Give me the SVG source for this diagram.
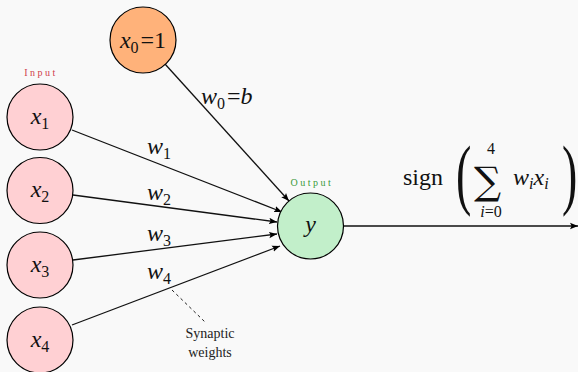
<svg xmlns="http://www.w3.org/2000/svg" width="578" height="372" viewBox="0 0 578 372">
<defs>
<marker id="arr" viewBox="0 0 10 10" refX="10" refY="5" markerWidth="8" markerHeight="8" orient="auto" markerUnits="userSpaceOnUse">
<path d="M0,1 L10,5 L0,9 L2,5 Z" fill="#000"/>
</marker>
</defs>
<rect width="578" height="372" fill="#f9f9f9"/>
<g id="connectors" stroke="#111" stroke-width="1.3" fill="none">
<line marker-end="url(#arr)" x1="165" y1="64" x2="289" y2="201"/>
<line marker-end="url(#arr)" x1="72" y1="130" x2="282" y2="212"/>
<line marker-end="url(#arr)" x1="73" y1="195" x2="277" y2="222"/>
<line marker-end="url(#arr)" x1="73" y1="260" x2="277" y2="234"/>
<line marker-end="url(#arr)" x1="72" y1="325" x2="280" y2="246"/>
<line marker-end="url(#arr)" x1="343.5" y1="226" x2="578" y2="226"/>
<line x1="172" y1="290" x2="205" y2="322" stroke="#222" stroke-width="1" stroke-dasharray="3,3"/>
</g>
<g id="edge-labels">
<text style="font-family:'Liberation Serif',serif !important" font-size="24" fill="#111" x="201" y="104"><tspan font-style="italic">w</tspan><tspan font-size="16" dy="5">0</tspan><tspan dy="-5" dx="2">=</tspan><tspan font-style="italic">b</tspan></text>
<text style="font-family:'Liberation Serif',serif !important" font-size="24" fill="#111" x="147" y="154"><tspan font-style="italic">w</tspan><tspan font-size="16" dy="5">1</tspan></text>
<text style="font-family:'Liberation Serif',serif !important" font-size="24" fill="#111" x="147" y="200"><tspan font-style="italic">w</tspan><tspan font-size="16" dy="5">2</tspan></text>
<text style="font-family:'Liberation Serif',serif !important" font-size="24" fill="#111" x="147" y="241"><tspan font-style="italic">w</tspan><tspan font-size="16" dy="5">3</tspan></text>
<text style="font-family:'Liberation Serif',serif !important" font-size="24" fill="#111" x="147" y="279"><tspan font-style="italic">w</tspan><tspan font-size="16" dy="5">4</tspan></text>
</g>
<g id="bias">
<circle fill="#ffb27a" stroke="#000" stroke-width="1.2" cx="143" cy="40" r="33"/>
<text style="font-family:'Liberation Serif',serif !important" font-size="24" fill="#111" x="143" y="48" text-anchor="middle"><tspan font-style="italic">x</tspan><tspan font-size="16" dy="5">0</tspan><tspan dy="-5" dx="2">=1</tspan></text>
</g>
<g id="input-label">
<text style="font-family:'Liberation Serif',serif !important" font-size="10" letter-spacing="2.5" x="41" y="76" text-anchor="middle" fill="#d0404a">Input</text>
</g>
<g id="x1">
<circle fill="#ffd0d3" stroke="#000" stroke-width="1.2" cx="40" cy="117" r="33"/>
<text style="font-family:'Liberation Serif',serif !important" font-size="24" fill="#111" x="40" y="124" text-anchor="middle"><tspan font-style="italic">x</tspan><tspan font-size="16" dy="5">1</tspan></text>
</g>
<g id="x2">
<circle fill="#ffd0d3" stroke="#000" stroke-width="1.2" cx="40" cy="190.5" r="33"/>
<text style="font-family:'Liberation Serif',serif !important" font-size="24" fill="#111" x="40" y="197" text-anchor="middle"><tspan font-style="italic">x</tspan><tspan font-size="16" dy="5">2</tspan></text>
</g>
<g id="x3">
<circle fill="#ffd0d3" stroke="#000" stroke-width="1.2" cx="40" cy="265" r="33"/>
<text style="font-family:'Liberation Serif',serif !important" font-size="24" fill="#111" x="40" y="272" text-anchor="middle"><tspan font-style="italic">x</tspan><tspan font-size="16" dy="5">3</tspan></text>
</g>
<g id="x4">
<circle fill="#ffd0d3" stroke="#000" stroke-width="1.2" cx="40" cy="340" r="33"/>
<text style="font-family:'Liberation Serif',serif !important" font-size="24" fill="#111" x="40" y="347" text-anchor="middle"><tspan font-style="italic">x</tspan><tspan font-size="16" dy="5">4</tspan></text>
</g>
<g id="output">
<text style="font-family:'Liberation Serif',serif !important" font-size="10" letter-spacing="2.5" x="312" y="186" text-anchor="middle" fill="#3a9a3a">Output</text>
<circle fill="#c2efca" stroke="#000" stroke-width="1.2" cx="310.5" cy="226" r="33"/>
<text style="font-family:'Liberation Serif',serif !important" font-size="24" font-style="italic" fill="#111" x="310.5" y="232" text-anchor="middle">y</text>
</g>
<g id="formula">
<text style="font-family:'Liberation Serif',serif !important" font-size="24" fill="#111" x="403" y="185">sign</text>
<text style="font-family:'Liberation Serif',serif !important" transform="translate(456,176) scale(1,1.7)" x="0" y="14" font-size="46" fill="#111">(</text>
<text style="font-family:'DejaVu Serif',serif !important" x="474" y="194" font-size="38" fill="#111">&#x2211;</text>
<text style="font-family:'Liberation Serif',serif !important" font-size="16" fill="#111" x="491" y="154" text-anchor="middle">4</text>
<text style="font-family:'Liberation Serif',serif !important" font-size="16" fill="#111" x="491" y="217" text-anchor="middle"><tspan font-style="italic">i</tspan>=0</text>
<text style="font-family:'Liberation Serif',serif !important" font-size="24" fill="#111" x="513" y="185"><tspan font-style="italic">w</tspan><tspan font-size="16" font-style="italic" dy="4">i</tspan><tspan font-style="italic" dy="-4">x</tspan><tspan font-size="16" font-style="italic" dy="4">i</tspan></text>
<text style="font-family:'Liberation Serif',serif !important" transform="translate(562,176) scale(1,1.7)" x="0" y="14" font-size="46" fill="#111">)</text>
</g>
<g id="note">
<text style="font-family:'Liberation Serif',serif !important" font-size="14" fill="#222" x="210" y="338" text-anchor="middle">Synaptic</text>
<text style="font-family:'Liberation Serif',serif !important" font-size="14" fill="#222" x="210" y="357" text-anchor="middle">weights</text>
</g>
</svg>
